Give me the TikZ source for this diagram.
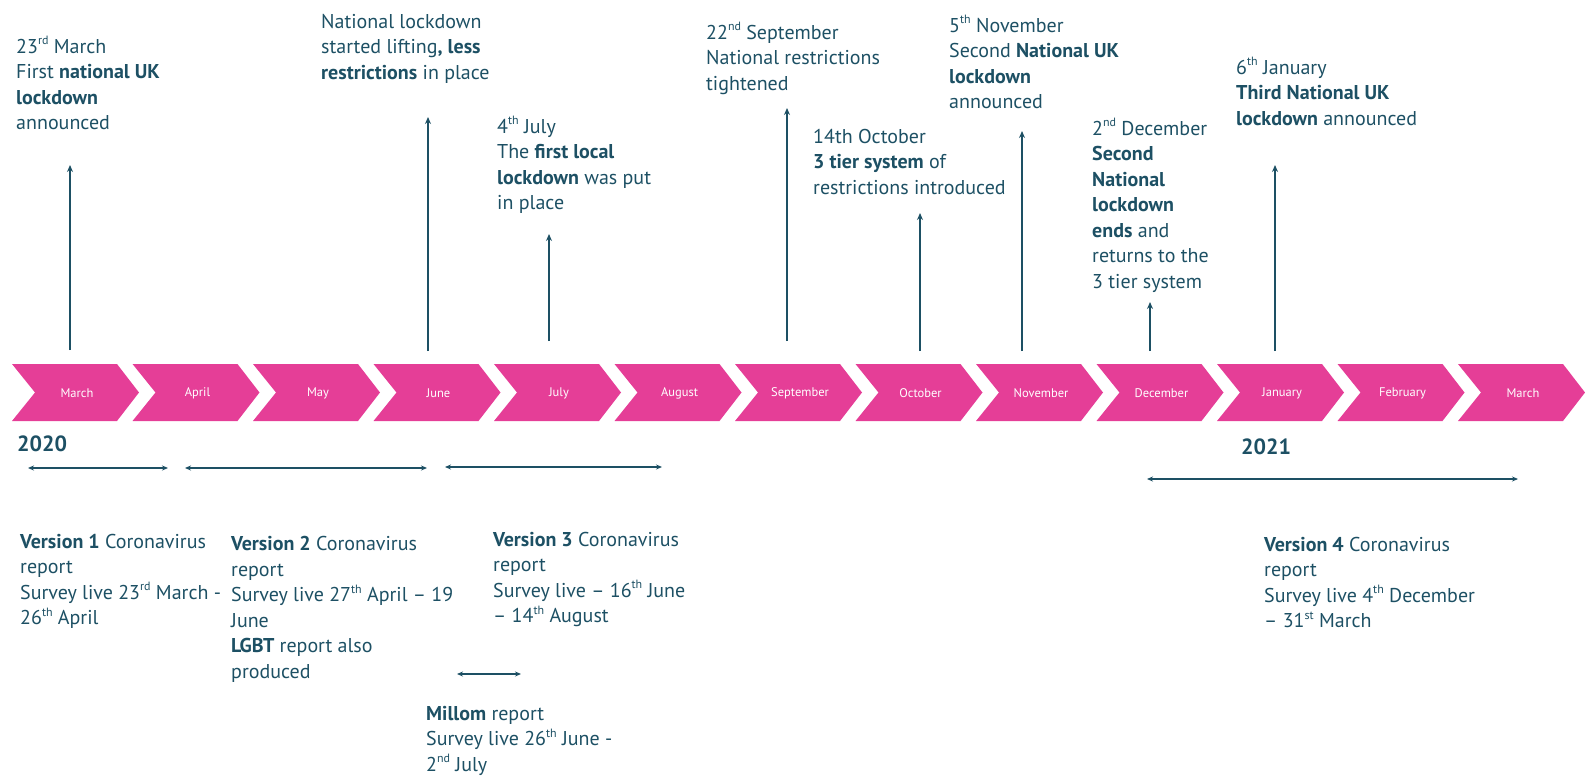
\documentclass[tikz,border=0pt]{standalone}
\usepackage{fontspec}
\setmainfont{PT Sans}
\usetikzlibrary{arrows.meta}
\definecolor{inkteal}{HTML}{1D5064}
\definecolor{chevpink}{HTML}{E53E97}
% small raised ordinal suffix
\newcommand\ordsfx[1]{\raisebox{0.42em}{\fontsize{12}{12}\selectfont #1}}
\begin{document}
\begin{tikzpicture}[x=1pt,y=-1pt,
  note/.style={font=\fontsize{20}{25.5}\selectfont, text=inkteal, align=left, inner sep=0pt, anchor=base west},
  year/.style={font=\fontsize{22}{26}\selectfont\bfseries, text=inkteal, inner sep=0pt, anchor=base west},
  month/.style={font=\fontsize{12.5}{14}\selectfont, text=white, inner sep=0pt},
  upline/.style={draw=inkteal, line width=1.7pt, -{Stealth[length=7pt,width=6pt]}},
  span/.style={draw=inkteal, line width=1.6pt, {Stealth[length=6pt,width=5pt]}-{Stealth[length=6pt,width=5pt]}}
]
\useasboundingbox (0,0) rectangle (1585,780);

% month chevrons
\foreach \i/\m in {0/March,1/April,2/May,3/June,4/July,5/August,6/September,7/October,8/November,9/December,10/January,11/February,12/March}{
  \pgfmathsetmacro\xl{12+\i*120.5}
  \fill[chevpink] (\xl,364) -- ++(105,0) -- ++(22,28.5) -- ++(-22,28.5) -- ++(-105,0) -- ++(23,-28.5) -- cycle;
  \node[month] (m\i) at (\xl+65,393) {\m};
}

% years
\node[year] (y2020) at (17,451) {2020};
\node[year] (y2021) at (1241,454) {2021};

% events above the timeline (anchored at the baseline of the last line)
\node[note] (t1) at (16,129.5) {23\ordsfx{rd} March\\First \textbf{national UK}\\\textbf{lockdown}\\announced};
\node[note] (t2) at (321,79) {National lockdown\\started lifting\textbf{, less}\\\textbf{restrictions} in place};
\node[note] (t3) at (497,209.5) {4\ordsfx{th} July\\The \textbf{first local}\\\textbf{lockdown} was put\\in place};
\node[note] (t4) at (706,90) {22\ordsfx{nd} September\\National restrictions\\tightened};
\node[note] (t5) at (813,194) {14th October\\\textbf{3 tier system} of\\restrictions introduced};
\node[note] (t6) at (949,108.5) {5\ordsfx{th} November\\Second \textbf{National UK}\\\textbf{lockdown}\\announced};
\node[note] (t7) at (1092,288) {2\ordsfx{nd} December\\\textbf{Second}\\\textbf{National}\\\textbf{lockdown}\\\textbf{ends} and\\returns to the\\3 tier system};
\node[note] (t8) at (1236,125) {6\ordsfx{th} January\\\textbf{Third National UK}\\\textbf{lockdown} announced};

% arrow ends
\coordinate (a1s) at (70,350);   \coordinate (a1e) at (70,165);
\coordinate (a2s) at (428,351);  \coordinate (a2e) at (428,117);
\coordinate (a3s) at (549,341);  \coordinate (a3e) at (549,234);
\coordinate (a4s) at (787,341);  \coordinate (a4e) at (787,108);
\coordinate (a5s) at (920,351);  \coordinate (a5e) at (920,213);
\coordinate (a6s) at (1022,351); \coordinate (a6e) at (1022,131);
\coordinate (a7s) at (1150,351); \coordinate (a7e) at (1150,302);
\coordinate (a8s) at (1275,351); \coordinate (a8e) at (1275,165);
\foreach \k in {1,...,8}{\draw[upline] (a\k s) -- (a\k e);}

% survey periods
\coordinate (p1a) at (28,468);   \coordinate (p1b) at (168,468);
\coordinate (p2a) at (185,468);  \coordinate (p2b) at (427,468);
\coordinate (p3a) at (445,467);  \coordinate (p3b) at (662,467);
\coordinate (p4a) at (1147,479); \coordinate (p4b) at (1518,479);
\coordinate (p5a) at (457,674);  \coordinate (p5b) at (521,674);
\foreach \k in {1,...,5}{\draw[span] (p\k a) -- (p\k b);}

% reports (anchored at the baseline of the last line)
\node[note] (b1) at (20,624.5) {\textbf{Version 1} Coronavirus\\report\\Survey live 23\ordsfx{rd} March -\\26\ordsfx{th} April};
\node[note] (b2) at (231,678) {\textbf{Version 2} Coronavirus\\report\\Survey live 27\ordsfx{th} April – 19\\June\\\textbf{LGBT} report also\\produced};
\node[note] (b3) at (493,622.5) {\textbf{Version 3} Coronavirus\\report\\Survey live – 16\ordsfx{th} June\\– 14\ordsfx{th} August};
\node[note] (b4) at (1264,627.5) {\textbf{Version 4} Coronavirus\\report\\Survey live 4\ordsfx{th} December\\– 31\ordsfx{st} March};
\node[note] (b5) at (426,771) {\textbf{Millom} report\\Survey live 26\ordsfx{th} June -\\2\ordsfx{nd} July};
\end{tikzpicture}
\end{document}
